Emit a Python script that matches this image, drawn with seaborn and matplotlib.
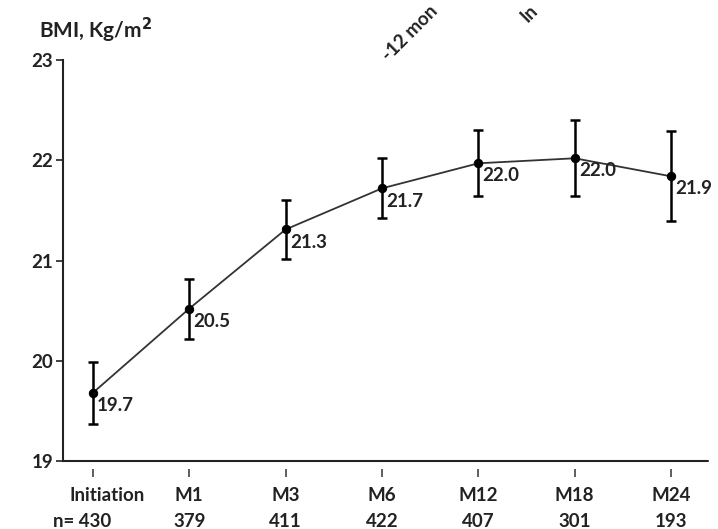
import matplotlib
matplotlib.use("Agg")
import matplotlib.pyplot as plt
import seaborn as sns
import pandas as pd
import numpy as np

visits = ["Initiation", "M1", "M3", "M6", "M12", "M18", "M24"]
n_patients = [430, 379, 411, 422, 407, 301, 193]
bmi_mean = [19.68, 20.52, 21.31, 21.72, 21.97, 22.02, 21.84]
bmi_err = [0.31, 0.30, 0.29, 0.30, 0.33, 0.38, 0.45]
bmi_label = ["19.7", "20.5", "21.3", "21.7", "22.0", "22.0", "21.9"]
y_ticks = [19, 20, 21, 22, 23]

sns.set_theme(style="ticks")
plt.rcParams["font.family"] = ["Lato", "DejaVu Sans"]

TXT = "#222222"
FS = 13.5

df = pd.DataFrame({"pos": np.arange(len(visits)), "bmi": bmi_mean})

fig = plt.figure(figsize=(7.18, 5.29), dpi=100)
ax = fig.add_axes([0.0877, 0.1285, 0.898, 0.758])

sns.lineplot(data=df, x="pos", y="bmi", ax=ax, color="#333333", linewidth=1.3,
             marker="o", markersize=6, markerfacecolor="black",
             markeredgecolor="black", zorder=3)
ax.errorbar(df["pos"], df["bmi"], yerr=bmi_err, fmt="none", ecolor="black",
            elinewidth=1.8, capsize=3.5, capthick=1.8, zorder=2)

for x, y, lab in zip(df["pos"], df["bmi"], bmi_label):
    ax.annotate(lab, (x, y), xytext=(3, -3), textcoords="offset points",
                ha="left", va="top", fontsize=FS, fontweight="bold", color=TXT)

ax.set_xlim(-0.31, 6.38)
ax.set_ylim(19, 23)
ax.set_yticks(y_ticks)
ax.set_yticklabels([str(t) for t in y_ticks], fontsize=FS, fontweight="bold", color=TXT)
ax.set_xticks(df["pos"])
ax.set_xticklabels([])
ax.set_xlabel("")
ax.set_ylabel("")

# category and n rows
xt = ax.get_xaxis_transform()
for i, (v, n) in enumerate(zip(visits, n_patients)):
    dx1 = 14 if i == 0 else 0
    ax.annotate(v, (i, 0), xycoords=xt, xytext=(dx1, -34), textcoords="offset pixels",
                ha="center", va="center", fontsize=FS, fontweight="bold", color=TXT,
                annotation_clip=False)
    lab2 = f"n= {n}" if i == 0 else f"{n}"
    dx2 = -11 if i == 0 else 0
    ax.annotate(lab2, (i, 0), xycoords=xt, xytext=(dx2, -60), textcoords="offset pixels",
                ha="center", va="center", fontsize=FS, fontweight="bold", color=TXT,
                annotation_clip=False)

for s in ["top", "right"]:
    ax.spines[s].set_visible(False)
ax.spines["left"].set_linewidth(1.5)
ax.spines["left"].set_color(TXT)
ax.spines["bottom"].set_color("none")
ax.spines["bottom"].set_position(("outward", 6))
ax.axhline(19, color=TXT, linewidth=1.5, clip_on=False)

ax.tick_params(axis="y", direction="out", length=5, width=1.2, color=TXT, pad=2)
ax.tick_params(axis="x", direction="out", length=6, width=1.2, color="#444444")

fig.text(0.055, 0.943, "BMI, Kg/m$^\\mathbf{2}$", fontsize=15, fontweight="bold",
         ha="left", va="center", color=TXT)
fig.text(0.545, 0.878, "-12 mon", rotation=45, fontsize=FS, fontweight="bold",
         ha="left", va="bottom", rotation_mode="anchor", color=TXT)
fig.text(0.738, 0.952, "In", rotation=45, fontsize=FS, fontweight="bold",
         ha="left", va="bottom", rotation_mode="anchor", color=TXT)

fig.savefig("out.png", dpi=100, facecolor="white")
